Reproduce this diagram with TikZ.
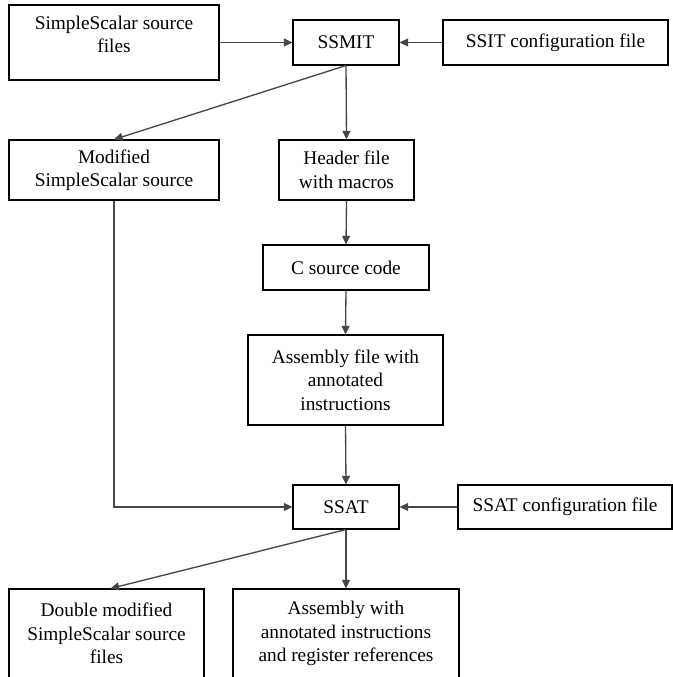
\documentclass[tikz,border=0pt]{standalone}
\usepackage{fontspec}
\setmainfont{Liberation Serif}
\usetikzlibrary{arrows.meta}
\begin{document}
\begin{tikzpicture}[x=0.75pt,y=-0.75pt,
  box/.style={draw=black,line width=0.8pt,fill=white,align=center,inner sep=0pt,
    font=\fontsize{14.5}{17.6}\selectfont},
  conn/.style={draw=black!72,line width=1pt,-{Triangle[length=6.5pt,width=6pt]}}]
\useasboundingbox (0,0) rectangle (673,677);

\node[box,minimum width=157.5pt,minimum height=56.25pt,text depth=12pt] (A) at (114,42.5) {SimpleScalar source\\files};
\node[box,minimum width=79.5pt,minimum height=33.75pt] (ssmit) at (346,42.5) {SSMIT};
\node[box,minimum width=168.75pt,minimum height=33.75pt] (ssitc) at (555.5,42.5) {SSIT configuration file};
\node[box,minimum width=157.5pt,minimum height=45pt] (mod) at (114,170) {Modified\\SimpleScalar source};
\node[box,minimum width=101.25pt,minimum height=45pt] (hdr) at (346.5,170) {Header file\\with macros};
\node[box,minimum width=124.5pt,minimum height=33.75pt] (csrc) at (346,267.5) {C source code};
\node[box,minimum width=146.25pt,minimum height=67.5pt] (asm) at (345.5,380) {Assembly file with\\annotated\\instructions};
\node[box,minimum width=79.5pt,minimum height=33pt] (ssat) at (346,507) {SSAT};
\node[box,minimum width=160.5pt,minimum height=33pt] (ssatc) at (565,507) {SSAT configuration file};
\node[box,minimum width=146.25pt,minimum height=66.75pt] (dbl) at (106.5,633.5) {Double modified\\SimpleScalar source\\files};
\node[box,minimum width=169.5pt,minimum height=66.75pt] (asmw) at (346,633.5) {Assembly with\\annotated instructions\\and register references};

\draw[conn] (A.east) -- (ssmit.west);
\draw[conn] (ssitc.west) -- (ssmit.east);
\draw[conn] (ssmit.south) -- (mod.north);
\draw[conn] (ssmit.south) -- (hdr.north);
\draw[conn] (hdr.south) -- (csrc.north);
\draw[conn] (csrc.south) -- (asm.north);
\draw[conn] (asm.south) -- (ssat.north);
\draw[conn] (mod.south) |- (ssat.west);
\draw[conn] (ssatc.west) -- (ssat.east);
\draw[conn] (ssat.south) -- ([xshift=3pt]dbl.north);
\draw[conn] (ssat.south) -- (asmw.north);
\end{tikzpicture}
\end{document}
